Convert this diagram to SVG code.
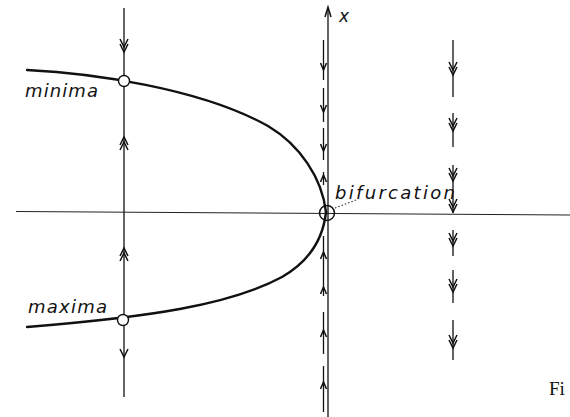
<svg xmlns="http://www.w3.org/2000/svg" width="570" height="417" viewBox="0 0 570 417">
<style>
.ln{stroke:#111;stroke-width:1.3;fill:none}
.thin{stroke:#222;stroke-width:1;fill:none}
.cur{stroke:#111;stroke-width:2.4;fill:none;stroke-linecap:round}
.ch{stroke:#111;stroke-width:1.5;fill:none;stroke-linejoin:miter}
.lbl{font-family:"DejaVu Sans",sans-serif;font-style:italic;fill:#111}
.cap{font-family:"Liberation Serif",serif;fill:#111}
</style>
<defs>
<path id="d1" d="M-4,-8 L0,0 L4,-8"/>
<path id="d2" d="M-4,-8 L0,0 L4,-8 M-4,-13 L0,-5 L4,-13"/>
<path id="u2" d="M-4,8 L0,0 L4,8 M-4,13 L0,5 L4,13"/>
<path id="u1" d="M-3,7 L0,0 L3,7"/>
<path id="s1" d="M-3,-7 L0,0 L3,-7"/>
</defs>
<g id="connectors">
<path class="thin" d="M16,211.5 L570,215"/>
<path class="ln" d="M328,417 L328,8"/>
<path class="ch" d="M325,17 L328,7 L331,17"/>
<path class="ln" d="M124,8 L124,75 M124,87 L124,314 M124,326 L124,397"/>
<use href="#d2" class="ch" x="124" y="52"/>
<use href="#u2" class="ch" x="124" y="137"/>
<use href="#u2" class="ch" x="124" y="248"/>
<use href="#d1" class="ch" x="124" y="357"/>
<path class="ln" d="M323.5,40 L323.5,80 M323.5,88 L323.5,122 M323.5,128 L323.5,160 M323.5,172 L323.5,185 M323.5,236 L323.5,296 M323.5,312 L323.5,354 M323.5,366 L323.5,412"/>
<use href="#s1" class="ch" x="323.5" y="70"/>
<use href="#s1" class="ch" x="323.5" y="112"/>
<use href="#s1" class="ch" x="323.5" y="151"/>
<use href="#u1" class="ch" x="323.5" y="175"/>
<use href="#u1" class="ch" x="323.5" y="252"/>
<use href="#u1" class="ch" x="323.5" y="287"/>
<use href="#u1" class="ch" x="323.5" y="330"/>
<use href="#u1" class="ch" x="323.5" y="382"/>
<path class="ln" d="M453,40 L453,97 M453,113 L453,147 M453,165 L453,213 M453,230 L453,256 M453,270 L453,303 M453,320 L453,360"/>
<use href="#d2" class="ch" x="453" y="75"/>
<use href="#d2" class="ch" x="453" y="131"/>
<use href="#d2" class="ch" x="453" y="181"/>
<use href="#d2" class="ch" x="453" y="212"/>
<use href="#d2" class="ch" x="453" y="246"/>
<use href="#d2" class="ch" x="453" y="292"/>
<use href="#d2" class="ch" x="453" y="348"/>
<path d="M335,208 L356,200" stroke="#333" stroke-width="1.2" stroke-dasharray="1.5,2" fill="none"/>
</g>
<g id="curve">
<path class="cur" d="M27,70 C90,73 200,88 268,126 C300,145 322,178 326,212"/>
<path class="cur" d="M326,212 C323,240 308,262 282,277 C230,305 150,317 27,327"/>
</g>
<g id="minima">
<circle cx="124" cy="81" r="5.5" fill="#fff" stroke="#111" stroke-width="1.4"/>
<text class="lbl" x="25" y="97" font-size="18" textLength="73" lengthAdjust="spacing">minima</text>
</g>
<g id="maxima">
<circle cx="123" cy="320" r="5.5" fill="#fff" stroke="#111" stroke-width="1.4"/>
<text class="lbl" x="28" y="313" font-size="18" textLength="79" lengthAdjust="spacing">maxima</text>
</g>
<g id="bifurcation">
<circle cx="327" cy="213" r="7.5" fill="none" stroke="#111" stroke-width="1.5"/>
<text class="lbl" x="335" y="199" font-size="18" textLength="120" lengthAdjust="spacing">bifurcation</text>
</g>
<g id="xlabel">
<text class="lbl" x="339" y="22" font-size="17">x</text>
</g>
<g id="caption">
<text class="cap" x="549" y="395" font-size="19">Fi</text>
</g>
</svg>
